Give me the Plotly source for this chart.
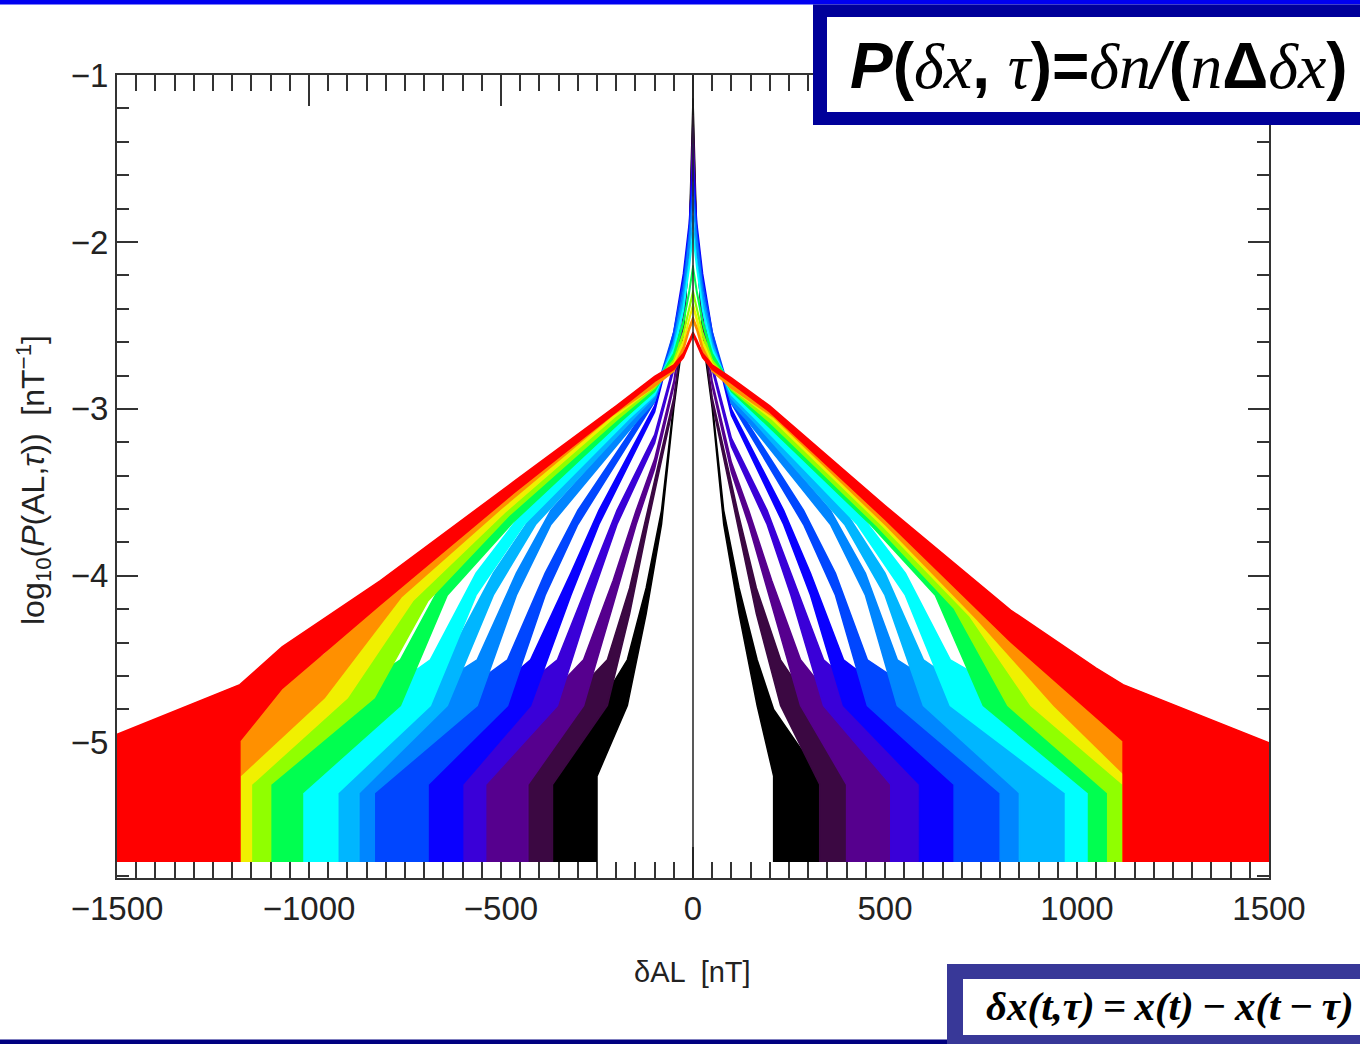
import numpy as np
import plotly.graph_objects as go

# log10 P(δAL, τ) as (|δAL| [nT], log10 P) pairs.
# "_pos" is the δAL > 0 branch, "_neg" the δAL < 0 branch; a branch stops where its counts run out.
black_pos = [(0, -1.15), (10, -2.0), (25, -2.55), (50, -2.98), (80, -3.65), (120, -4.15), (167, -4.64), (210, -5.0), (330, -5.4)]
black_neg = [(0, -1.15), (10, -2.0), (25, -2.55), (50, -2.98), (82, -3.65), (122, -4.15), (171, -4.64), (250, -5.0), (366, -5.4)]

plum_pos = [(0, -1.25), (10, -2.05), (25, -2.5), (50, -2.95), (116, -3.65), (165, -4.15), (228, -4.64), (330, -5.05), (424, -5.4)]
plum_neg = [(0, -1.25), (10, -2.05), (25, -2.5), (50, -2.95), (118, -3.65), (165, -4.15), (223, -4.64), (366, -5.05), (430, -5.4)]

purple_pos = [(0, -1.32), (10, -2.05), (25, -2.45), (50, -2.85), (100, -3.35), (145, -3.65), (205, -4.1), (280, -4.64), (400, -5.05), (517, -5.4)]
purple_neg = [(0, -1.32), (10, -2.05), (25, -2.45), (50, -2.85), (100, -3.33), (148, -3.65), (208, -4.1), (285, -4.64), (430, -5.05), (540, -5.4)]

violet_pos = [(0, -1.42), (10, -2.0), (25, -2.35), (50, -2.75), (100, -3.2), (193, -3.65), (255, -4.05), (340, -4.64), (515, -5.05), (590, -5.4)]
violet_neg = [(0, -1.42), (10, -2.0), (25, -2.35), (50, -2.75), (100, -3.18), (198, -3.65), (262, -4.05), (353, -4.64), (540, -5.05), (600, -5.4)]

blue_pos = [(0, -1.55), (10, -1.9), (25, -2.2), (50, -2.55), (100, -3.02), (236, -3.65), (306, -4.05), (392, -4.64), (590, -5.05), (680, -5.4)]
blue_neg = [(0, -1.55), (10, -1.9), (25, -2.2), (50, -2.55), (100, -3.0), (245, -3.65), (318, -4.05), (423, -4.64), (600, -5.05), (690, -5.4)]

blue2_pos = [(0, -1.65), (10, -1.95), (25, -2.25), (50, -2.55), (100, -2.95), (288, -3.65), (371, -4.05), (454, -4.64), (680, -5.05), (810, -5.4)]
blue2_neg = [(0, -1.65), (10, -1.95), (25, -2.25), (50, -2.55), (100, -2.94), (300, -3.65), (385, -4.05), (483, -4.64), (690, -5.05), (830, -5.4)]

azure_pos = [(0, -1.75), (10, -2.0), (25, -2.3), (50, -2.6), (100, -2.95), (141, -3.05), (358, -3.65), (449, -4.05), (532, -4.64), (800, -5.1), (860, -5.4)]
azure_neg = [(0, -1.75), (10, -2.0), (25, -2.3), (50, -2.6), (100, -2.94), (141, -3.04), (370, -3.65), (460, -4.05), (562, -4.64), (830, -5.1), (870, -5.4)]

sky_pos = [(0, -1.85), (10, -2.1), (25, -2.35), (50, -2.62), (100, -2.92), (160, -3.06), (395, -3.65), (500, -4.05), (600, -4.64), (850, -5.1), (980, -5.4)]
sky_neg = [(0, -1.85), (10, -2.1), (25, -2.35), (50, -2.62), (100, -2.91), (160, -3.05), (410, -3.65), (520, -4.05), (640, -4.64), (870, -5.1), (925, -5.4)]

cyan_pos = [(0, -1.95), (10, -2.15), (25, -2.4), (50, -2.65), (100, -2.9), (167, -3.05), (428, -3.65), (553, -4.05), (670, -4.64), (970, -5.1), (1040, -5.4)]
cyan_neg = [(0, -1.95), (10, -2.15), (25, -2.4), (50, -2.65), (100, -2.9), (167, -3.04), (440, -3.65), (565, -4.05), (684, -4.64), (925, -5.1), (1017, -5.4)]

green_pos = [(0, -2.15), (10, -2.3), (25, -2.48), (50, -2.68), (100, -2.88), (190, -3.07), (462, -3.65), (631, -4.05), (756, -4.64), (1030, -5.1), (1150, -5.4)]
green_neg = [(0, -2.15), (10, -2.3), (25, -2.48), (50, -2.68), (100, -2.88), (190, -3.06), (470, -3.64), (640, -4.05), (762, -4.64), (1017, -5.1), (1180, -5.4)]

lime_pos = [(0, -2.3), (10, -2.4), (25, -2.55), (50, -2.72), (100, -2.87), (200, -3.06), (480, -3.66), (680, -4.12), (820, -4.64), (1080, -5.1), (1200, -5.4)]
lime_neg = [(0, -2.3), (10, -2.4), (25, -2.55), (50, -2.72), (100, -2.86), (200, -3.05), (480, -3.6), (690, -4.08), (830, -4.6), (1100, -5.05), (1180, -5.4)]

yellow_pos = [(0, -2.38), (10, -2.46), (25, -2.6), (50, -2.74), (100, -2.86), (205, -3.04), (495, -3.66), (720, -4.16), (880, -4.64), (1120, -5.05), (1300, -5.4)]
yellow_neg = [(0, -2.38), (10, -2.46), (25, -2.6), (50, -2.74), (100, -2.85), (205, -3.03), (490, -3.58), (730, -4.08), (900, -4.6), (1150, -5.05), (1250, -5.4)]

orange_pos = [(0, -2.46), (10, -2.52), (25, -2.64), (50, -2.76), (100, -2.86), (210, -3.03), (505, -3.66), (740, -4.18), (940, -4.64), (1150, -5.05), (1350, -5.4)]
orange_neg = [(0, -2.46), (10, -2.52), (25, -2.64), (50, -2.76), (100, -2.85), (210, -3.02), (500, -3.56), (760, -4.06), (960, -4.6), (1180, -5.0), (1300, -5.4)]

red_pos = [(0, -2.55), (10, -2.6), (25, -2.68), (50, -2.75), (100, -2.83), (200, -3.0), (500, -3.62), (827, -4.3), (1050, -4.7), (1120, -4.82), (1500, -5.2)]
red_neg = [(0, -2.55), (10, -2.6), (25, -2.68), (50, -2.75), (100, -2.82), (200, -3.0), (467, -3.47), (814, -4.1), (1070, -4.55), (1180, -4.82), (1500, -5.15)]

CURVE_COLORS = ["#000000", "#3b0842", "#56008e", "#3a00d8", "#0a00ff", "#0046ff", "#0086ff",
                "#00b6ff", "#00ffff", "#00ff50", "#90ff00", "#f0f000", "#ff9000", "#ff0000"]
CURVE_BRANCHES = [
    (black_neg, black_pos), (plum_neg, plum_pos), (purple_neg, purple_pos),
    (violet_neg, violet_pos), (blue_neg, blue_pos), (blue2_neg, blue2_pos),
    (azure_neg, azure_pos), (sky_neg, sky_pos), (cyan_neg, cyan_pos),
    (green_neg, green_pos), (lime_neg, lime_pos), (yellow_neg, yellow_pos),
    (orange_neg, orange_pos), (red_neg, red_pos),
]

# bin-to-bin scatter of the histogram values, by level
NOISE_LEVEL = [-5.7, -5.0, -4.6, -4.0, -3.5, -3.0, -2.5]
NOISE_HALF = [0.2, 0.2, 0.13, 0.06, 0.035, 0.018, 0.01]
DROPOUT = -4.8           # below this, empty bins pull the trace down to the floor
FLOOR = -5.71            # value plotted for empty bins

X_TICKS = [-1500, -1000, -500, 0, 500, 1000, 1500]
X_TICKTEXT = ["\u22121500", "\u22121000", "\u2212500", "0", "500", "1000", "1500"]
Y_TICKS = [-1, -2, -3, -4, -5]
Y_TICKTEXT = ["\u22121", "\u22122", "\u22123", "\u22124", "\u22125"]

W, H = 1360, 1044
PL, PR, PT, PB = 117, 1269, 75, 878


def paper_x(px):
    return (px - PL) / (PR - PL)


def paper_y(py):
    return (PB - py) / (PB - PT)


def branch_outline(branch, sign):
    """Upper and lower edges of one branch, ordered outward from δAL = 0."""
    xs = [sign * x for x, _ in branch]
    cs = np.array([v for _, v in branch], dtype=float)
    half = np.interp(cs, NOISE_LEVEL, NOISE_HALF)
    upper = list(zip(xs, cs + half))
    lower = []
    for i, (x, c, h) in enumerate(zip(xs, cs, half)):
        if c < DROPOUT:
            if i > 0 and cs[i - 1] >= DROPOUT:
                # empty bins start here: the trace drops straight to the floor
                lower.append((x, max(c - h, FLOOR)))
            lower.append((x, FLOOR))
        else:
            lower.append((x, max(c - h, FLOOR)))
    return upper, lower


fig = go.Figure()

for color, (neg, pos) in zip(CURVE_COLORS, CURVE_BRANCHES):
    up_n, lo_n = branch_outline(neg, -1)
    up_p, lo_p = branch_outline(pos, 1)
    # closed outline: upper edge left to right, lower edge right to left
    upper = up_n[:0:-1] + up_p
    lower = lo_p[::-1] + lo_n[1:]
    pts = upper + lower
    fig.add_trace(go.Scatter(
        x=[p[0] for p in pts], y=[p[1] for p in pts],
        mode="lines", fill="toself", fillcolor=color,
        line=dict(color=color, width=1.5),
        hoverinfo="skip", showlegend=False,
    ))

axis_common = dict(
    showline=True, linecolor="#333333", linewidth=2, mirror="ticks",
    ticks="inside", tickcolor="#333333", tickwidth=1.5,
    showgrid=False, zeroline=False, layer="below traces",
    tickfont=dict(family="Liberation Sans", size=33, color="#222222"),
)

fig.update_xaxes(
    range=[-1500, 1500], tickvals=X_TICKS, ticktext=X_TICKTEXT, ticklen=31,
    minor=dict(dtick=50, ticks="inside", ticklen=16, tickwidth=1.5, tickcolor="#333333", showgrid=False),
    **axis_common,
)
fig.update_yaxes(
    range=[-5.81, -1], tickvals=Y_TICKS, ticktext=Y_TICKTEXT, ticklen=21,
    minor=dict(dtick=0.2, ticks="inside", ticklen=12, tickwidth=1.5, tickcolor="#333333", showgrid=False),
    **axis_common,
)

shapes = [
    # centre line at δAL = 0
    dict(type="line", xref="x", yref="y", x0=0, x1=0, y0=-5.81, y1=-1,
         line=dict(color="#222222", width=1.5), layer="above"),
    # slide bars
    dict(type="rect", xref="paper", yref="paper", x0=paper_x(-5), x1=paper_x(1365),
         y0=paper_y(0), y1=paper_y(4.5), fillcolor="#0000f0", line=dict(width=0), layer="above"),
    dict(type="rect", xref="paper", yref="paper", x0=paper_x(-5), x1=paper_x(1365),
         y0=paper_y(1039.5), y1=paper_y(1050), fillcolor="#000080", line=dict(width=0), layer="above"),
    # formula boxes
    dict(type="rect", xref="paper", yref="paper", x0=paper_x(813), x1=paper_x(1365),
         y0=paper_y(4.5), y1=paper_y(125), fillcolor="#00009a", line=dict(width=0), layer="above"),
    dict(type="rect", xref="paper", yref="paper", x0=paper_x(827), x1=paper_x(1365),
         y0=paper_y(17), y1=paper_y(112), fillcolor="#ffffff", line=dict(width=0), layer="above"),
    dict(type="rect", xref="paper", yref="paper", x0=paper_x(947), x1=paper_x(1365),
         y0=paper_y(964), y1=paper_y(1050), fillcolor="#383898", line=dict(width=0), layer="above"),
    dict(type="rect", xref="paper", yref="paper", x0=paper_x(963), x1=paper_x(1365),
         y0=paper_y(979), y1=paper_y(1035), fillcolor="#ffffff", line=dict(width=0), layer="above"),
]

serif = "font-family:'Liberation Serif';font-weight:normal"
formula_top = (
    "<b><i>P</i>(</b><span style=\"%s\"><i>δx</i></span><b>, </b>"
    "<span style=\"%s\"><i>τ</i></span><b>)=</b>"
    "<span style=\"%s\"><i>δn</i></span><i>/</i><b>(</b>"
    "<span style=\"%s\"><i>n</i></span><b>Δ</b>"
    "<span style=\"%s\"><i>δx</i></span><b>)</b>"
) % (serif, serif, serif, serif, serif)

thin = "\u2009"
formula_bottom = "<b><i>δx(t,τ)%s=%sx(t)%s−%sx(t%s−%sτ)</i></b>" % (thin, thin, thin, thin, thin, thin)

annotations = [
    dict(text=formula_top, xref="paper", yref="paper", x=paper_x(1099), y=paper_y(66),
         xanchor="center", yanchor="middle", showarrow=False,
         font=dict(family="Liberation Sans", size=64, color="#000000")),
    dict(text=formula_bottom, xref="paper", yref="paper",
         x=paper_x(1170), y=paper_y(1006), xanchor="center", yanchor="middle", showarrow=False,
         font=dict(family="Liberation Serif", size=41, color="#000000")),
    dict(text="δAL  [nT]", xref="paper", yref="paper", x=paper_x(692), y=paper_y(972),
         xanchor="center", yanchor="middle", showarrow=False,
         font=dict(family="Liberation Sans", size=29, color="#222222")),
    dict(text="log<sub>10</sub>(<i>P</i>(AL,<i>τ</i>))  [nT<sup>−1</sup>]", xref="paper", yref="paper",
         x=paper_x(33), y=paper_y(480), xanchor="center", yanchor="middle", showarrow=False,
         textangle=-90, font=dict(family="Liberation Sans", size=32, color="#222222")),
]

fig.update_layout(
    width=W, height=H, autosize=False,
    margin=dict(l=PL, r=W - PR, t=PT, b=H - PB, pad=0),
    paper_bgcolor="#ffffff", plot_bgcolor="#ffffff",
    shapes=shapes, annotations=annotations, showlegend=False,
)

fig.write_html("out.html", config={"displayModeBar": False})
